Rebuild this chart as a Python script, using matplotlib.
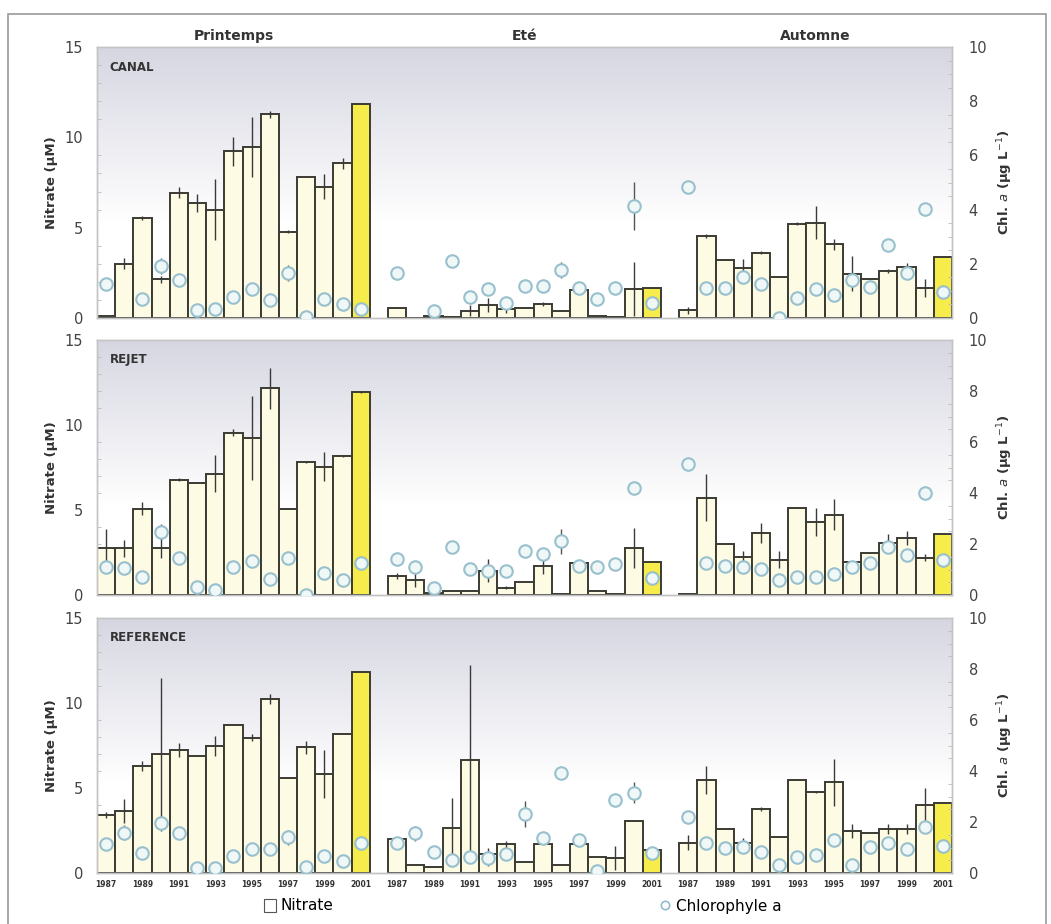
import matplotlib.pyplot as plt
import numpy as np
from matplotlib.patches import Rectangle, Patch
from matplotlib.lines import Line2D

nan = np.nan
years = list(range(1987, 2002))
seasons = ["Printemps", "Eté", "Automne"]
stations = ["CANAL", "REJET", "REFERENCE"]

# values in order Printemps (15), Eté (15), Automne (15)
canal_nit = [0.1, 3.0, 5.55, 2.14, 6.93, 6.38, 6.0, 9.24, 9.46, 11.27, 4.78, 7.8, 7.27, 8.56, 11.83,
             0.57, 0.0, 0.1, 0.05, 0.4, 0.72, 0.48, 0.57, 0.79, 0.39, 1.53, 0.11, 0.05, 1.59, 1.66,
             0.42, 4.54, 3.21, 2.79, 3.62, 2.27, 5.22, 5.27, 4.08, 2.45, 2.14, 2.6, 2.84, 1.64, 3.39]
canal_nit_err = [0, 0.3, 0.1, 0.2, 0.3, 0.5, 1.7, 0.8, 1.66, 0.2, 0.1, 0, 0.7, 0.3, 0,
                 0, 0, 0, 0, 0.3, 0.4, 0.2, 0, 0.1, 0, 0, 0, 0, 1.5, 0,
                 0.2, 0.1, 0, 0.46, 0.1, 0, 0.1, 0.92, 0.3, 0.97, 0, 0.1, 0.2, 0.5, 0]
canal_chl = [1.24, nan, 0.69, 1.92, 1.39, 0.28, 0.32, 0.77, 1.06, 0.65, 1.67, 0.04, 0.69, 0.5, 0.34,
             1.65, nan, 0.26, 2.1, 0.77, 1.06, 0.57, 1.18, 1.18, 1.76, 1.1, 0.71, 1.1, 4.13, 0.57,
             4.85, 1.12, 1.12, 1.51, 1.24, 0.01, 0.75, 1.08, 0.85, 1.39, 1.16, 2.69, 1.67, 4.01, 0.97]
canal_chl_err = [0, 0, 0, 0.3, 0, 0, 0, 0, 0, 0, 0.3, 0, 0, 0, 0,
                 0, 0, 0, 0, 0, 0, 0, 0, 0, 0.3, 0, 0, 0, 0.9, 0,
                 0, 0, 0, 0, 0, 0, 0, 0, 0, 0, 0, 0, 0, 0, 0]

rejet_nit = [2.76, 2.76, 5.08, 2.76, 6.79, 6.56, 7.13, 9.55, 9.25, 12.15, 5.08, 7.84, 7.54, 8.17, 11.95,
             1.12, 0.89, 0.1, 0.24, 0.24, 1.44, 0.43, 0.75, 1.73, 0.06, 1.87, 0.24, 0.04, 2.76, 1.93,
             0.05, 5.71, 3.01, 2.26, 3.64, 2.07, 5.12, 4.29, 4.73, 1.93, 2.5, 3.05, 3.35, 2.2, 3.6]
rejet_nit_err = [1.1, 0.5, 0.4, 0.6, 0.1, 0, 1.08, 0.2, 2.46, 1.23, 0.05, 0.05, 0.86, 0.05, 0.05,
                 0.2, 0.4, 0, 0, 0, 0.7, 0.1, 0, 0.5, 0, 0, 0, 0, 1.18, 0,
                 0, 1.38, 0, 0.3, 0.6, 0.5, 0, 0.84, 0.9, 0, 0, 0.55, 0.4, 0.2, 0]
rejet_chl = [1.11, 1.05, 0.7, 2.49, 1.44, 0.33, 0.2, 1.11, 1.35, 0.62, 1.47, 0.0, 0.85, 0.59, 1.25,
             1.42, 1.08, 0.26, 1.9, 1.01, 0.96, 0.96, 1.71, 1.6, 2.1, 1.14, 1.08, 1.21, 4.2, 0.66,
             5.15, 1.27, 1.14, 1.09, 1.01, 0.59, 0.7, 0.72, 0.83, 1.09, 1.27, 1.9, 1.57, 4.0, 1.38]
rejet_chl_err = [0, 0, 0, 0.3, 0, 0, 0, 0, 0, 0, 0, 0, 0, 0, 0,
                 0, 0, 0, 0, 0, 0.3, 0, 0, 0, 0.5, 0, 0, 0, 0, 0,
                 0.2, 0, 0, 0, 0, 0, 0, 0, 0, 0, 0, 0, 0, 0.15, 0]

ref_nit = [3.41, 3.65, 6.31, 6.98, 7.24, 6.9, 7.47, 8.71, 7.96, 10.22, 5.57, 7.39, 5.82, 8.16, 11.8,
           2.0, 0.47, 0.37, 2.63, 6.65, 1.1, 1.69, 0.67, 1.69, 0.47, 1.69, 0.92, 0.86, 3.06, 1.35,
           1.78, 5.47, 2.59, 1.78, 3.76, 2.1, 5.47, 4.75, 5.33, 2.47, 2.33, 2.57, 2.57, 4.0, 4.1]
ref_nit_err = [0.2, 0.7, 0.3, 4.5, 0.4, 0, 0.6, 0, 0.2, 0.3, 0, 0.4, 1.42, 0, 0,
               0, 0, 0, 1.8, 5.6, 0.4, 0.2, 0, 0, 0, 0, 0, 0.7, 0, 0,
               0.45, 0.8, 0, 0.3, 0.1, 0, 0, 0.05, 1.39, 0.4, 0, 0.3, 0.3, 1.0, 0]
ref_chl = [1.14, 1.58, 0.77, 1.95, 1.58, 0.18, 0.18, 0.67, 0.93, 0.93, 1.4, 0.25, 0.67, 0.48, 1.16,
           1.16, 1.56, 0.84, 0.51, 0.64, 0.57, 0.73, 2.31, 1.36, 3.91, 1.29, 0.08, 2.86, 3.15, 0.8,
           2.21, 1.16, 0.97, 1.03, 0.84, 0.31, 0.64, 0.71, 1.29, 0.31, 1.03, 1.19, 0.93, 1.82, 1.06]
ref_chl_err = [0, 0.3, 0, 0.15, 0, 0, 0, 0, 0, 0, 0.3, 0, 0, 0, 0,
               0, 0.3, 0, 0, 0, 0.3, 0, 0.5, 0, 0, 0, 0, 0, 0.4, 0,
               0, 0, 0, 0.2, 0, 0, 0, 0, 0, 0, 0, 0, 0, 0, 0]

nit_all = [canal_nit, rejet_nit, ref_nit]
nit_err_all = [canal_nit_err, rejet_nit_err, ref_nit_err]
chl_all = [canal_chl, rejet_chl, ref_chl]
chl_err_all = [canal_chl_err, rejet_chl_err, ref_chl_err]

W, H = 1051, 924
fig = plt.figure(figsize=(W / 100, H / 100), dpi=100)

# bar positions: 15 per season, one empty slot between seasons
x = np.concatenate([np.arange(15) + 16 * s for s in range(3)])
yrs = np.array(years * 3)
cream = "#fdfbe3"
yellow = "#f6ec4c"
bar_colors = [yellow if y == 2001 else cream for y in yrs]

# axes rectangles in pixels (top, bottom)
panels_px = [(47, 318), (340, 595), (618, 873)]
left_px, right_px = 97, 952

# vertical gradient background
t = np.linspace(0, 1, 256)[:, None]
w = np.clip((t - 0.35) / 0.65, 0, 1)
top_col = np.array([0.84, 0.84, 0.885])
grad = (1 - w)[..., None] * np.ones(3) + w[..., None] * top_col
grad = np.repeat(grad, 2, axis=1)

for i, st in enumerate(stations):
    top, bot = panels_px[i]
    ax = fig.add_axes([left_px / W, 1 - bot / H, (right_px - left_px) / W, (bot - top) / H])
    ax.imshow(grad, extent=[0, 1, 0, 1], transform=ax.transAxes, aspect="auto",
              origin="lower", zorder=0)
    ax.bar(x, nit_all[i], width=1.0, color=bar_colors, edgecolor="#3b3b33",
           linewidth=1.4, zorder=2)
    ax.errorbar(x, nit_all[i], yerr=nit_err_all[i], fmt="none", ecolor="#3a3a3a",
                elinewidth=1.0, capsize=0, zorder=3)
    ax.set_xlim(-0.5, 46.5)
    ax.set_ylim(0, 15)
    ax.set_yticks([0, 5, 10, 15])
    ax.set_yticks(np.arange(0, 16, 1), minor=True)
    ax.tick_params(axis="y", which="major", length=0, labelsize=10.5, labelcolor="#444444", pad=10)
    ax.tick_params(axis="y", which="minor", length=3, direction="in", color="#bbbbbb")
    ax.set_ylabel("Nitrate (µM)", fontsize=9.5, fontweight="bold", color="#333333", labelpad=5)
    ax.text(0.015, 0.95, st, transform=ax.transAxes, fontsize=8.5, fontweight="bold",
            color="#333333", va="top", zorder=5)

    ax2 = ax.twinx()
    ax2.errorbar(x, chl_all[i], yerr=chl_err_all[i], fmt="none", ecolor="#555555",
                 elinewidth=1.0, capsize=0, zorder=3)
    ax2.plot(x, chl_all[i], "o", ls="none", ms=9, mfc="#f0f8f7", mec="#98c0ce",
             mew=1.5, zorder=4)
    ax2.set_ylim(0, 10)
    ax2.set_yticks([0, 2, 4, 6, 8, 10])
    ax2.set_yticks(np.arange(0, 10.1, 0.5), minor=True)
    ax2.tick_params(axis="y", which="major", length=0, labelsize=10.5, labelcolor="#444444", pad=12)
    ax2.tick_params(axis="y", which="minor", length=3, direction="in", color="#bbbbbb")
    ax2.set_ylabel("Chl. $\\mathit{a}$ (µg L$^{-1}$)", fontsize=9.5, fontweight="bold",
                   color="#333333", labelpad=6)

    for a in (ax, ax2):
        for sp in a.spines.values():
            sp.set_color("#c4c4c4")
            sp.set_linewidth(1.0)

    if i == 2:
        odd = yrs % 2 == 1
        ax.set_xticks(x[odd])
        ax.set_xticklabels([str(y) for y in yrs[odd]], fontsize=5.5, fontweight="bold",
                           color="#333333")
        ax.tick_params(axis="x", length=0, pad=5)
    else:
        ax.set_xticks([])

    if i == 0:
        for s, name in enumerate(seasons):
            ax.text(16 * s + 7, 1.015, name, transform=ax.get_xaxis_transform(),
                    ha="center", va="bottom", fontsize=10, fontweight="bold", color="#333333")

# legend
fig.legend(handles=[Patch(facecolor="white", edgecolor="#555555", linewidth=0.8)],
           labels=["Nitrate"], loc="center left", bbox_to_anchor=(250 / W, 1 - 906 / H),
           frameon=False, fontsize=11, handlelength=0.8, handleheight=0.9, handletextpad=0.3)
fig.legend(handles=[Line2D([], [], marker="o", ls="none", ms=6, mfc="white", mec="#93bccb", mew=1.2)],
           labels=["Chlorophyle a"], loc="center left", bbox_to_anchor=(645 / W, 1 - 906 / H),
           frameon=False, fontsize=11, handlelength=0.8, handletextpad=0.3)

# outer frame
fig.add_artist(Rectangle((8 / W, -0.02), 1038 / W, 1.02 - 14 / H, transform=fig.transFigure,
                         fill=False, edgecolor="#9a9a9a", linewidth=1.2))

fig.savefig("out.png", dpi=100)
